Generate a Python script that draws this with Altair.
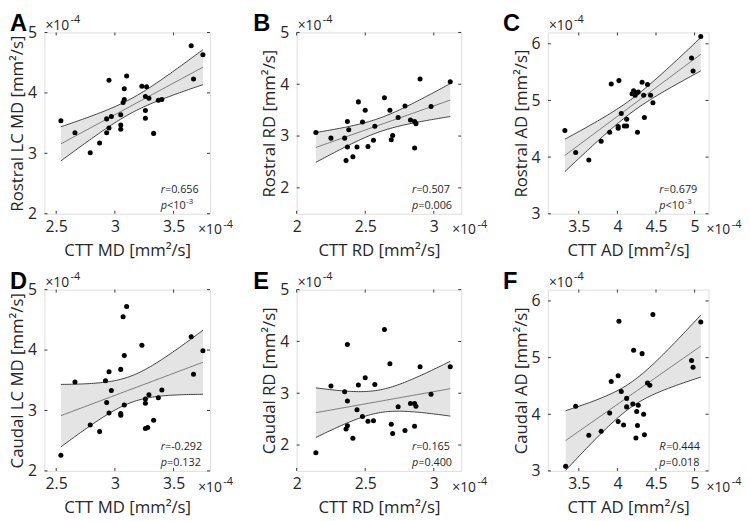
import altair as alt
import numpy as np
import pandas as pd

# ---------------- data (values in units of 1e-4 mm^2/s) ----------------
A_x = [2.54, 2.66, 2.79, 2.87, 2.93, 2.93, 2.95, 2.95, 2.97, 3.05, 3.05, 3.05, 3.07, 3.08,
       3.08, 3.10, 3.23, 3.27, 3.26, 3.29, 3.26, 3.26, 3.33, 3.37, 3.40, 3.65, 3.67, 3.75]
A_y = [3.54, 3.34, 3.01, 3.17, 3.57, 3.34, 4.21, 3.42, 3.61, 3.64, 3.47, 3.40, 3.84, 3.89,
       4.07, 4.28, 4.11, 4.10, 3.94, 3.91, 3.71, 3.58, 3.33, 3.88, 3.89, 4.78, 4.23, 4.63]

B_x = [2.14, 2.25, 2.35, 2.37, 2.37, 2.36, 2.38, 2.41, 2.44, 2.45, 2.48, 2.50, 2.52, 2.56,
       2.57, 2.64, 2.68, 2.69, 2.70, 2.74, 2.79, 2.83, 2.86, 2.86, 2.87, 2.90, 2.98, 3.12]
B_y = [3.07, 2.96, 2.96, 3.28, 2.79, 2.53, 3.12, 2.60, 2.79, 3.66, 3.27, 3.50, 2.80, 2.92,
       3.19, 3.74, 3.50, 2.93, 3.01, 3.36, 3.58, 3.31, 2.77, 3.28, 3.24, 4.10, 3.57, 4.05]

C_x = [3.32, 3.46, 3.63, 3.79, 3.90, 3.92, 4.02, 4.01, 4.01, 4.05, 4.09, 4.12, 4.12, 4.19,
       4.21, 4.23, 4.25, 4.27, 4.26, 4.32, 4.34, 4.35, 4.39, 4.43, 4.46, 4.96, 4.98, 5.08]
C_y = [4.47, 4.08, 3.95, 4.28, 4.44, 5.29, 5.35, 4.54, 4.51, 4.77, 4.55, 4.67, 4.55, 5.12,
       5.17, 5.09, 5.13, 5.15, 4.44, 5.32, 5.09, 4.70, 5.28, 5.09, 4.96, 5.75, 5.52, 6.13]

D_x = [2.54, 2.66, 2.79, 2.87, 2.92, 2.93, 2.95, 2.95, 2.97, 3.05, 3.05, 3.05, 3.07, 3.08,
       3.08, 3.10, 3.23, 3.26, 3.26, 3.29, 3.26, 3.28, 3.33, 3.37, 3.40, 3.65, 3.67, 3.75]
D_y = [2.26, 3.47, 2.76, 2.65, 3.49, 3.13, 3.64, 2.96, 3.33, 3.68, 2.95, 2.92, 4.55, 3.91,
       3.09, 4.72, 4.08, 3.19, 3.12, 3.26, 2.70, 2.72, 2.84, 3.21, 3.34, 4.22, 3.60, 3.99]

E_x = [2.14, 2.25, 2.35, 2.37, 2.36, 2.37, 2.37, 2.41, 2.44, 2.45, 2.48, 2.50, 2.52, 2.56,
       2.57, 2.64, 2.68, 2.69, 2.70, 2.74, 2.79, 2.83, 2.86, 2.86, 2.87, 2.90, 2.98, 3.12]
E_y = [1.85, 3.14, 3.03, 2.85, 2.31, 2.37, 3.94, 2.13, 2.68, 3.16, 2.55, 3.30, 2.46, 2.47,
       3.17, 4.23, 3.57, 2.40, 2.22, 2.74, 2.28, 2.80, 2.36, 2.80, 2.75, 3.51, 2.98, 3.51]

F_x = [3.33, 3.46, 3.63, 3.79, 3.90, 3.92, 4.01, 4.02, 4.01, 4.05, 4.08, 4.12, 4.12, 4.21,
       4.20, 4.25, 4.26, 4.24, 4.27, 4.32, 4.34, 4.35, 4.39, 4.42, 4.46, 4.96, 4.98, 5.08]
F_y = [3.08, 4.14, 3.63, 3.70, 4.02, 4.58, 4.68, 5.64, 3.87, 4.40, 3.81, 4.28, 4.13, 5.13,
       4.18, 4.05, 3.80, 3.58, 4.16, 5.07, 4.00, 3.64, 4.55, 4.51, 5.76, 4.95, 4.83, 5.63]

letters = ["A", "B", "C", "D", "E", "F"]
x_titles = ["CTT MD [mm²/s]", "CTT RD [mm²/s]", "CTT AD [mm²/s]"] * 2
y_titles = ["Rostral LC MD [mm²/s]", "Rostral RD [mm²/s]", "Rostral AD [mm²/s]",
            "Caudal LC MD [mm²/s]", "Caudal RD [mm²/s]", "Caudal AD [mm²/s]"]
x_domains = [[2.4, 3.81], [2.0, 3.2], [3.1, 5.18]] * 2
y_domains = [[2, 5], [1.5, 5], [3, 6.2]] * 2
x_ticks = [[2.5, 3, 3.5], [2, 2.5, 3], [3.5, 4, 4.5, 5]] * 2
y_ticks = [[2, 3, 4, 5], [2, 3, 4, 5], [3, 4, 5, 6]] * 2
stat_sym = ["r", "r", "r", "r", "r", "R"]
stat_val = ["=0.656", "=0.507", "=0.679", "=-0.292", "=0.165", "=0.444"]
p_val = ["<10", "=0.006", "<10", "=0.132", "=0.400", "=0.018"]
p_sup = ["-3", "", "-3", "", "", ""]
exp_label = "×10"
exp_sup = "-4"

FONT = "Open Sans"
TXT = "#262626"
WIDTHS = [168, 167, 163]
H = 184
T_CRIT = 2.056  # two-sided 95% Student t, n-2 = 26 df


def fit_band(xs, ys):
    x = np.asarray(xs, float)
    y = np.asarray(ys, float)
    n = len(x)
    b, a = np.polyfit(x, y, 1)
    res = y - (a + b * x)
    s = np.sqrt((res ** 2).sum() / (n - 2))
    sxx = ((x - x.mean()) ** 2).sum()
    g = np.linspace(x.min(), x.max(), 80)
    fit = a + b * g
    half = T_CRIT * s * np.sqrt(1.0 / n + (g - x.mean()) ** 2 / sxx)
    return pd.DataFrame({"x": g, "fit": fit, "lo": fit - half, "hi": fit + half})


def txt(one, text, x, y, size, style="normal", weight="normal", align="left",
        baseline="alphabetic", font=FONT):
    return alt.Chart(one).mark_text(
        text=text, font=font, fontSize=size, fontStyle=style, fontWeight=weight,
        align=align, baseline=baseline, color=TXT if weight == "normal" else "black"
    ).encode(x=alt.value(x), y=alt.value(y))


def panel(i, xs, ys):
    col = i % 3
    W = WIDTHS[col]
    xsc = alt.Scale(domain=x_domains[i], nice=False, zero=False)
    ysc = alt.Scale(domain=y_domains[i], nice=False, zero=False)
    xax = alt.Axis(values=x_ticks[i], format="~g", ticks=False, tickSize=0, domain=False,
                   grid=False, labelFont=FONT, labelFontSize=16, labelColor=TXT,
                   labelPadding=5, titleFont=FONT, titleFontSize=17, titleColor=TXT,
                   titleFontWeight="normal", titlePadding=8, labelFlush=False)
    yax = alt.Axis(values=y_ticks[i], format="~g", ticks=False, tickSize=0, domain=False,
                   grid=False, labelFont=FONT, labelFontSize=16, labelColor=TXT,
                   labelPadding=8, titleFont=FONT, titleFontSize=17, titleColor=TXT,
                   titleFontWeight="normal", titlePadding=1, labelFlush=False)

    def X(f):
        return alt.X(f, type="quantitative", scale=xsc, axis=xax, title=x_titles[i])

    def Y(f):
        return alt.Y(f, type="quantitative", scale=ysc, axis=yax, title=y_titles[i])

    pts = pd.DataFrame({"x": xs, "y": ys})
    band = fit_band(xs, ys)
    xt = pd.DataFrame({"x": x_ticks[i]})
    yt = pd.DataFrame({"y": y_ticks[i]})
    one = pd.DataFrame({"k": [0]})

    layers = [
        alt.Chart(band).mark_area(color="#e4e4e4", opacity=1).encode(
            x=X("x"), y=Y("lo"), y2=alt.Y2("hi")),
        alt.Chart(band).mark_line(color="#2b2b2b", strokeWidth=0.9).encode(x=X("x"), y=Y("hi")),
        alt.Chart(band).mark_line(color="#2b2b2b", strokeWidth=0.9).encode(x=X("x"), y=Y("lo")),
        alt.Chart(band).mark_line(color="#6a6a6a", strokeWidth=0.9).encode(x=X("x"), y=Y("fit")),
        alt.Chart(pts).mark_circle(size=26, color="black", opacity=1).encode(x=X("x"), y=Y("y")),
        # inward tick marks on all four sides
        alt.Chart(xt).mark_rule(color="#333333", strokeWidth=1).encode(
            x=X("x"), y=alt.value(H), y2=alt.value(H - 3)),
        alt.Chart(xt).mark_rule(color="#333333", strokeWidth=1).encode(
            x=X("x"), y=alt.value(0), y2=alt.value(3)),
        alt.Chart(yt).mark_rule(color="#333333", strokeWidth=1).encode(
            y=Y("y"), x=alt.value(0), x2=alt.value(3)),
        alt.Chart(yt).mark_rule(color="#333333", strokeWidth=1).encode(
            y=Y("y"), x=alt.value(W), x2=alt.value(W - 3)),
    ]

    # statistics annotation
    sx = W - 50
    sym_w = {"r": 4.3, "R": 7.0}[stat_sym[i]]
    layers.append(txt(one, stat_sym[i], sx, 163, 11, style="italic"))
    layers.append(txt(one, stat_val[i], sx + sym_w, 163, 11))
    layers.append(txt(one, "p", sx, 179, 11, style="italic"))
    layers.append(txt(one, p_val[i], sx + 6.4, 179, 11))
    if p_sup[i]:
        layers.append(txt(one, p_sup[i], sx + 6.4 + 19.5, 174, 8))

    # exponent labels (x10^-4)
    layers.append(txt(one, exp_label, 1, -3, 14))
    layers.append(txt(one, exp_sup, 26.5, -9.5, 11))
    ex = W + [-12, -9, -2][col]
    layers.append(txt(one, exp_label, ex, H + 21, 14))
    layers.append(txt(one, exp_sup, ex + 25.5, H + 14.5, 11))

    # panel letter
    lx = [-35, -44, -45.5][col]
    layers.append(txt(one, letters[i], lx, -20, 24, weight="bold", baseline="top",
                      font="Liberation Sans"))

    return alt.layer(*layers).properties(width=W, height=H)


panels = [panel(0, A_x, A_y), panel(1, B_x, B_y), panel(2, C_x, C_y),
          panel(3, D_x, D_y), panel(4, E_x, E_y), panel(5, F_x, F_y)]

chart = alt.concat(*panels, columns=3, spacing={"row": 77, "column": 88},
                   bounds="flush").properties(
    padding={"left": 0, "top": 0, "right": 0, "bottom": 0}
).configure_view(stroke="#333333", strokeWidth=1).configure(background="white")

chart.save("out.html", embed_options={"renderer": "svg", "actions": False})
